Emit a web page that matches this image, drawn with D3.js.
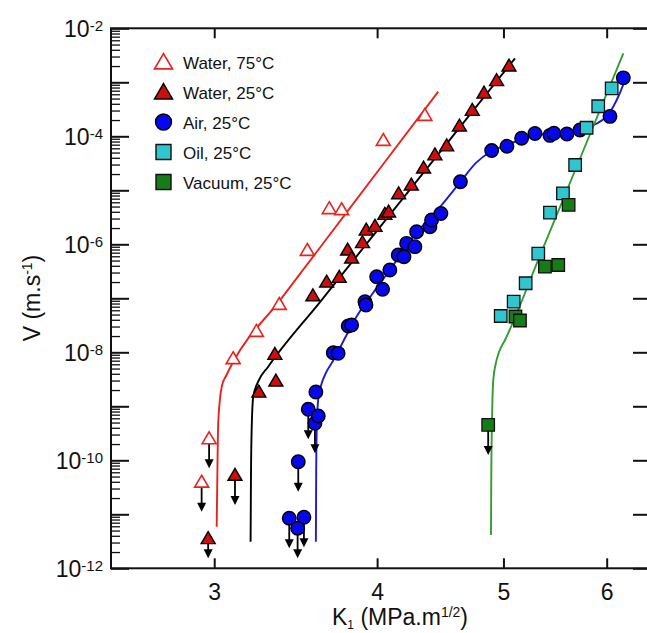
<!DOCTYPE html>
<html><head><meta charset="utf-8">
<script src="https://cdn.jsdelivr.net/npm/d3@7"></script>
<style>
body{margin:0;background:#fff}
text{font-family:"Liberation Sans",Arial,Helvetica,sans-serif;fill:#111}
</style>
</head><body>
<svg id="chart" width="647" height="633"></svg>
<script>
// ---------- DATA ----------
const xTickValues = [3, 4, 5, 6];
const yLabelExponents = [-2, -4, -6, -8, -10, -12];
const xDomain = [2.5, 6.5];
const yDomain = [1e-12, 1e-2];
const legendLabels = ["Water, 75\u00B0C", "Water, 25\u00B0C", "Air, 25\u00B0C", "Oil, 25\u00B0C", "Vacuum, 25\u00B0C"];

// Water, 75°C (open red triangles); limit = 1 -> upper-bound arrow
const water75K = [2.934, 2.973, 3.102, 3.232, 3.365, 3.536, 3.676, 3.757, 4.044, 4.352];
const water75V = [4.0e-11, 2.55e-10, 7.74e-9, 2.48e-8, 7.83e-8, 7.83e-7, 4.65e-6, 4.45e-6, 8.53e-5, 2.48e-4];
const water75Limit = [1, 1, 0, 0, 0, 0, 0, 0, 0, 0];
const water75FitK = [3.013, 3.017, 3.020, 3.030, 3.041, 3.066, 3.102, 3.369, 3.680, 4.055, 4.456];
const water75FitV = [5.89e-12, 6.61e-11, 3.64e-10, 1.31e-9, 2.38e-9, 3.80e-9, 6.61e-9, 9.14e-8, 1.52e-6, 3.34e-5, 6.70e-4];

// Water, 25°C (filled red triangles)
const water25K = [2.968, 3.112, 3.246, 3.345, 3.339, 3.571, 3.659, 3.741, 3.797, 3.824, 3.898, 3.924, 3.985, 4.055, 4.082, 4.155, 4.249, 4.342, 4.430, 4.523, 4.626, 4.732, 4.831, 4.940, 5.049];
const water25V = [3.60e-12, 5.35e-11, 1.86e-9, 2.98e-9, 9.31e-9, 1.13e-7, 2.03e-7, 2.48e-7, 7.94e-7, 5.65e-7, 1.09e-6, 1.86e-6, 2.18e-6, 3.64e-6, 4.02e-6, 8.79e-6, 1.27e-5, 2.62e-5, 4.60e-5, 6.76e-5, 1.58e-4, 3.07e-4, 6.41e-4, 1.09e-3, 2.03e-3];
const water25Limit = [1, 1, 0, 0, 0, 0, 0, 0, 0, 0, 0, 0, 0, 0, 0, 0, 0, 0, 0, 0, 0, 0, 0, 0, 0];
const water25FitK = [3.199, 3.201, 3.205, 3.214, 3.242, 3.300, 3.616, 4.020, 4.549, 5.103];
const water25FitV = [3.11e-12, 4.32e-11, 3.64e-10, 1.49e-9, 2.86e-9, 5.41e-9, 8.51e-8, 2.08e-6, 8.69e-5, 2.78e-3];

// Air, 25°C (blue circles)
const airK = [3.425, 3.515, 3.476, 3.480, 3.542, 3.584, 3.605, 3.590, 3.702, 3.734, 3.801, 3.824, 3.915, 3.922, 3.997, 4.039, 4.091, 4.152, 4.194, 4.214, 4.276, 4.289, 4.391, 4.404, 4.477, 4.634, 4.897, 5.031, 5.163, 5.286, 5.428, 5.466, 5.593, 5.723, 6.035, 6.179];
const airV = [8.43e-12, 8.79e-12, 5.51e-12, 9.42e-11, 8.79e-10, 4.84e-10, 6.61e-10, 1.84e-9, 9.84e-9, 9.57e-9, 3.07e-8, 3.21e-8, 8.65e-8, 7.52e-8, 2.51e-7, 1.47e-7, 3.34e-7, 6.34e-7, 5.89e-7, 1.04e-6, 9.04e-7, 1.71e-6, 2.12e-6, 2.82e-6, 3.72e-6, 1.44e-5, 5.46e-5, 6.53e-5, 9.18e-5, 1.13e-4, 1.04e-4, 1.14e-4, 1.10e-4, 1.31e-4, 2.34e-4, 1.21e-3];
const airLimit = [1, 1, 1, 1, 1, 1, 0, 0, 0, 0, 0, 0, 0, 0, 0, 0, 0, 0, 0, 0, 0, 0, 0, 0, 0, 0, 0, 0, 0, 0, 0, 0, 0, 0, 0, 0];
const airFitK = [3.590, 3.592, 3.597, 3.606, 3.622, 3.654, 3.700, 3.790, 3.860, 3.971, 4.091, 4.261, 4.470, 4.634, 4.763, 4.891, 5.031, 5.166, 5.305, 5.526, 5.724, 5.887, 5.993, 6.068, 6.132, 6.197];
const airFitV = [3.11e-12, 6.61e-11, 5.57e-10, 1.43e-9, 2.38e-9, 4.14e-9, 6.90e-9, 2.09e-8, 4.70e-8, 1.25e-7, 3.34e-7, 1.36e-6, 4.91e-6, 1.43e-5, 3.21e-5, 5.24e-5, 6.90e-5, 8.91e-5, 1.06e-4, 1.15e-4, 1.31e-4, 1.69e-4, 2.28e-4, 3.49e-4, 5.82e-4, 1.10e-3];

// Oil, 25°C (cyan squares)
const oilK = [4.976, 5.091, 5.200, 5.317, 5.428, 5.554, 5.675, 5.791, 5.911, 6.053];
const oilV = [4.70e-8, 8.65e-8, 1.90e-7, 6.70e-7, 3.85e-6, 8.79e-6, 2.94e-5, 1.44e-4, 3.60e-4, 7.74e-4];

// Vacuum, 25°C (green squares)
const vacK = [4.867, 5.107, 5.148, 5.380, 5.508, 5.610];
const vacV = [4.51e-10, 4.60e-8, 3.88e-8, 3.85e-7, 4.14e-7, 5.35e-6];
const vacLimit = [1, 0, 0, 0, 0, 0];
const vacFitK = [4.891, 4.894, 4.900, 4.911, 4.930, 4.961, 5.014, 5.334, 5.724, 6.179];
const vacFitV = [4.14e-12, 6.61e-11, 5.57e-10, 3.07e-9, 5.82e-9, 1.01e-8, 1.69e-8, 6.25e-7, 3.88e-5, 3.44e-3];

// ---------- LAYOUT ----------
const W = 647, H = 633;
const margin = {left: 111, top: 28.3, right: -5, bottom: 64.7};
const svg = d3.select("#chart");
const x = d3.scaleLog().domain(xDomain).range([margin.left, W - margin.right]);
const y = d3.scaleLog().domain(yDomain).range([H - margin.bottom, margin.top]);
const x0 = margin.left, x1 = W - margin.right, yTop = margin.top, yBot = H - margin.bottom;

const COLORS = {
  red: "#e8231f", darkred: "#cf0d0d", black: "#000", blue: "#0707ee", blueLine: "#1c1cd0",
  cyan: "#2fc6cf", green: "#167d16", greenLine: "#339c33"
};

// ---------- AXES ----------
const decades = d3.range(-12, -1).map(e => Math.pow(10, e));
const minors = [];
d3.range(-12, -2).forEach(e => { for (let m = 2; m <= 9; m++) minors.push(m * Math.pow(10, e)); });

const gLeftMinor = svg.append("g").attr("transform", `translate(${x0},0)`)
  .call(d3.axisLeft(y).tickValues(minors).tickSizeInner(-9).tickSizeOuter(0).tickFormat(""));
gLeftMinor.select(".domain").remove();
gLeftMinor.selectAll(".tick line").attr("stroke", "#111").attr("stroke-width", 1.3);

const gLeft = svg.append("g").attr("transform", `translate(${x0},0)`)
  .call(d3.axisLeft(y).tickValues(decades).tickSizeInner(-18).tickSizeOuter(0).tickPadding(8));
gLeft.select(".domain").remove();
gLeft.selectAll(".tick line").attr("stroke", "#111").attr("stroke-width", 2);
gLeft.selectAll(".tick text").each(function(d) {
  const e = Math.round(Math.log10(d));
  const t = d3.select(this);
  if (!yLabelExponents.includes(e)) { t.remove(); return; }
  t.text(null).attr("font-size", 23).attr("fill", "#111").attr("dy", "0.35em");
  t.append("tspan").text("10");
  t.append("tspan").text(String(e)).attr("font-size", 15).attr("dy", "-0.36em");
});

const gRight = svg.append("g").attr("transform", `translate(${x1},0)`)
  .call(d3.axisRight(y).tickValues(decades).tickSizeInner(-19).tickSizeOuter(0).tickFormat(""));
gRight.select(".domain").remove();
gRight.selectAll(".tick line").attr("stroke", "#111").attr("stroke-width", 2);

const gBottom = svg.append("g").attr("transform", `translate(0,${yBot})`)
  .call(d3.axisBottom(x).tickValues(xTickValues).tickSizeInner(-10).tickSizeOuter(0).tickPadding(15).tickFormat(d3.format("d")));
gBottom.select(".domain").remove();
gBottom.selectAll(".tick line").attr("stroke", "#111").attr("stroke-width", 2);
gBottom.selectAll(".tick text").attr("font-size", 23).attr("fill", "#111");

const gTop = svg.append("g").attr("transform", `translate(0,${yTop})`)
  .call(d3.axisTop(x).tickValues(xTickValues).tickSizeInner(-10).tickSizeOuter(0).tickFormat(""));
gTop.select(".domain").remove();
gTop.selectAll(".tick line").attr("stroke", "#111").attr("stroke-width", 2);

svg.append("rect").attr("x", x0).attr("y", yTop).attr("width", x1 - x0).attr("height", yBot - yTop)
  .attr("fill", "none").attr("stroke", "#111").attr("stroke-width", 2);

// axis titles
const xt = svg.append("text").attr("x", 400).attr("y", 625).attr("text-anchor", "middle").attr("font-size", 23);
xt.append("tspan").text("K");
xt.append("tspan").text("1").attr("font-size", 12).attr("dy", 4);
xt.append("tspan").text(" (MPa.m").attr("dy", -4);
xt.append("tspan").text("1/2").attr("font-size", 14).attr("dy", -8);
xt.append("tspan").text(")").attr("dy", 8);

const yt = svg.append("text").attr("transform", "translate(40,298) rotate(-90)").attr("text-anchor", "middle").attr("font-size", 23);
yt.append("tspan").text("V (m.s");
yt.append("tspan").text("-1").attr("font-size", 14).attr("dy", -8);
yt.append("tspan").text(")").attr("dy", 8);

// ---------- MARKS ----------
const zip = (a, b) => a.map((v, i) => [v, b[i]]);
const line = d3.line().x(d => x(d[0])).y(d => y(d[1])).curve(d3.curveMonotoneX);
const gLines = svg.append("g").attr("fill", "none").attr("stroke-width", 1.9);
gLines.append("path").attr("d", line(zip(water75FitK, water75FitV))).attr("stroke", COLORS.red);
gLines.append("path").attr("d", line(zip(water25FitK, water25FitV))).attr("stroke", COLORS.black);
gLines.append("path").attr("d", line(zip(airFitK, airFitV))).attr("stroke", COLORS.blueLine);
gLines.append("path").attr("d", line(zip(vacFitK, vacFitV))).attr("stroke", COLORS.greenLine);

// upper-bound arrows
const gArrows = svg.append("g");
function arrows(K, V, L) {
  K.forEach((k, i) => {
    if (!L[i]) return;
    const px = x(k), py = y(V[i]);
    const tip = py + Math.min(30, yBot - py - 10);
    gArrows.append("line").attr("x1", px).attr("x2", px).attr("y1", py).attr("y2", tip - 4)
      .attr("stroke", "#000").attr("stroke-width", 1.8);
    gArrows.append("path").attr("d", `M${px - 4.5},${tip - 9}L${px + 4.5},${tip - 9}L${px},${tip}Z`).attr("fill", "#000");
  });
}
arrows(water75K, water75V, water75Limit);
arrows(water25K, water25V, water25Limit);
arrows(airK, airV, airLimit);
arrows(vacK, vacV, vacLimit);

const tri = (w) => { const h = w * 0.85; return `M0,${-h * 0.55}L${w / 2},${h * 0.45}L${-w / 2},${h * 0.45}Z`; };
const sq = (s) => `M${-s / 2},${-s / 2}h${s}v${s}h${-s}Z`;
const circ = (d) => { const r = d / 2; return `M${r},0A${r},${r} 0 1,1 ${-r},0A${r},${r} 0 1,1 ${r},0Z`; };

function points(K, V, shape, fill, stroke, sw) {
  svg.append("g").selectAll("path").data(zip(K, V)).join("path")
    .attr("transform", d => `translate(${x(d[0])},${y(d[1])})`)
    .attr("d", shape).attr("fill", fill).attr("stroke", stroke).attr("stroke-width", sw);
}
points(water75K, water75V, tri(14), "#fff", COLORS.red, 1.6);
points(water25K, water25V, tri(14), COLORS.darkred, "#000", 1.4);
points(airK, airV, circ(13.5), COLORS.blue, "#000", 1.4);
points(oilK, oilV, sq(12.5), COLORS.cyan, "#111", 1.3);
points(vacK, vacV, sq(12.5), COLORS.green, "#111", 1.3);

// ---------- LEGEND ----------
const legendShapes = [
  [tri(18), "#fff", COLORS.red, 1.7],
  [tri(18), COLORS.darkred, "#000", 1.5],
  [circ(16), COLORS.blue, "#000", 1.4],
  [sq(15), COLORS.cyan, "#111", 1.4],
  [sq(15), COLORS.green, "#111", 1.4]
];
const lg = svg.append("g");
legendLabels.forEach((lab, i) => {
  const ly = 62 + i * 30;
  const s = legendShapes[i];
  lg.append("path").attr("transform", `translate(163.5,${ly})`).attr("d", s[0])
    .attr("fill", s[1]).attr("stroke", s[2]).attr("stroke-width", s[3]);
  lg.append("text").attr("x", 183).attr("y", ly + 6.5).attr("font-size", 17).text(lab);
});
</script>
</body></html>
